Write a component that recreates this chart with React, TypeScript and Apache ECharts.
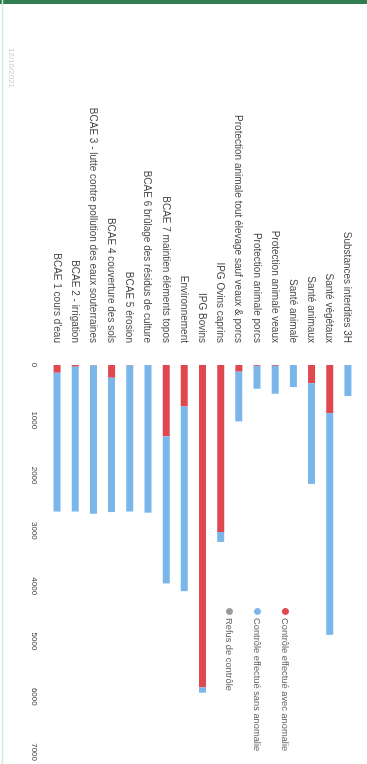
import React, { useEffect, useRef } from "react";
import * as echarts from "echarts";

const categories = [
  "BCAE 1 cours d'eau",
  "BCAE 2 - irrigation",
  "BCAE 3 - lutte contre pollution des eaux souterraines",
  "BCAE 4 couverture des sols",
  "BCAE 5 érosion",
  "BCAE 6 brûlage des résidus de culture",
  "BCAE 7 maintien éléments topos",
  "Environnement",
  "IPG Bovins",
  "IPG Ovins caprins",
  "Protection animale tout élevage sauf veaux & porcs",
  "Protection animale porcs",
  "Protection animale veaux",
  "Santé animale",
  "Santé animaux",
  "Santé végétaux",
  "Substances interdites 3H",
];

const avecAnomalie = [140, 30, 10, 230, 10, 0, 1290, 750, 5830, 3020, 120, 15, 15, 0, 330, 870, 0];
const sansAnomalie = [2510, 2620, 2680, 2430, 2640, 2670, 2660, 3340, 95, 180, 900, 415, 505, 400, 1820, 4010, 560];
const refus = [0, 0, 0, 0, 0, 0, 0, 0, 0, 0, 0, 0, 0, 0, 0, 0, 0];

const valueTicks = [0, 1000, 2000, 3000, 4000, 5000, 6000, 7000];

const seriesNames = [
  "Contrôle effectué avec anomalie",
  "Contrôle effectué sans anomalie",
  "Refus de contrôle",
];

export default function App() {
  const ref = useRef<HTMLDivElement>(null);
  useEffect(() => {
    if (!ref.current) return;
    const chart = echarts.init(ref.current, null, { renderer: "svg" });
    const font = "'Liberation Sans', Arial, sans-serif";
    chart.setOption({
      animation: false,
      backgroundColor: "#ffffff",
      textStyle: { fontFamily: font },
      grid: { left: 365, right: 9, top: 10, bottom: 48, containLabel: false },
      legend: {
        orient: "vertical",
        left: 603,
        top: 72,
        icon: "circle",
        itemWidth: 7,
        itemHeight: 7,
        itemGap: 19,
        textStyle: { fontSize: 9.3, color: "#5e5e5e", fontFamily: font, padding: [0, 0, 0, -2] },
        data: seriesNames,
      },
      xAxis: {
        type: "value",
        min: valueTicks[0],
        max: valueTicks[valueTicks.length - 1],
        interval: 1000,
        axisLine: { show: false },
        axisTick: { show: false },
        splitLine: { show: false },
        axisLabel: {
          fontSize: 8,
          color: "#3c3c3c",
          margin: 9,
          formatter: (v: number) => String(v),
        },
      },
      yAxis: {
        type: "category",
        data: categories,
        axisLine: { show: false },
        axisTick: { show: false },
        axisLabel: { fontSize: 10, color: "#4a4a4a", margin: 22, interval: 0 },
      },
      graphic: [
        { type: "rect", shape: { x: 0, y: 0, width: 4, height: 367 }, style: { fill: "#2f7d50" } },
        { type: "line", shape: { x1: 0, y1: 364.5, x2: 764, y2: 364.5 }, style: { stroke: "#cdeedc", lineWidth: 1.5 } },
        { type: "text", x: 48, y: 351, style: { text: "12/10/2021", fontSize: 8, fill: "#c2ccd2", fontFamily: font } },
      ],
      series: [
        {
          name: seriesNames[0],
          type: "bar",
          stack: "total",
          barWidth: 7,
          itemStyle: { color: "#e0474f" },
          data: avecAnomalie,
        },
        {
          name: seriesNames[1],
          type: "bar",
          stack: "total",
          barWidth: 7,
          itemStyle: { color: "#7ab6ea" },
          data: sansAnomalie,
        },
        {
          name: seriesNames[2],
          type: "bar",
          stack: "total",
          barWidth: 7,
          itemStyle: { color: "#9a9a9a" },
          data: refus,
        },
      ],
    });
    return () => chart.dispose();
  }, []);
  return (
    <div
      style={{
        position: "fixed",
        left: 0,
        top: 0,
        width: 764,
        height: 367,
        transformOrigin: "0 0",
        transform: "translateX(367px) rotate(90deg)",
        background: "#ffffff",
      }}
    >
      <div ref={ref} style={{ width: 764, height: 367 }} />
    </div>
  );
}
